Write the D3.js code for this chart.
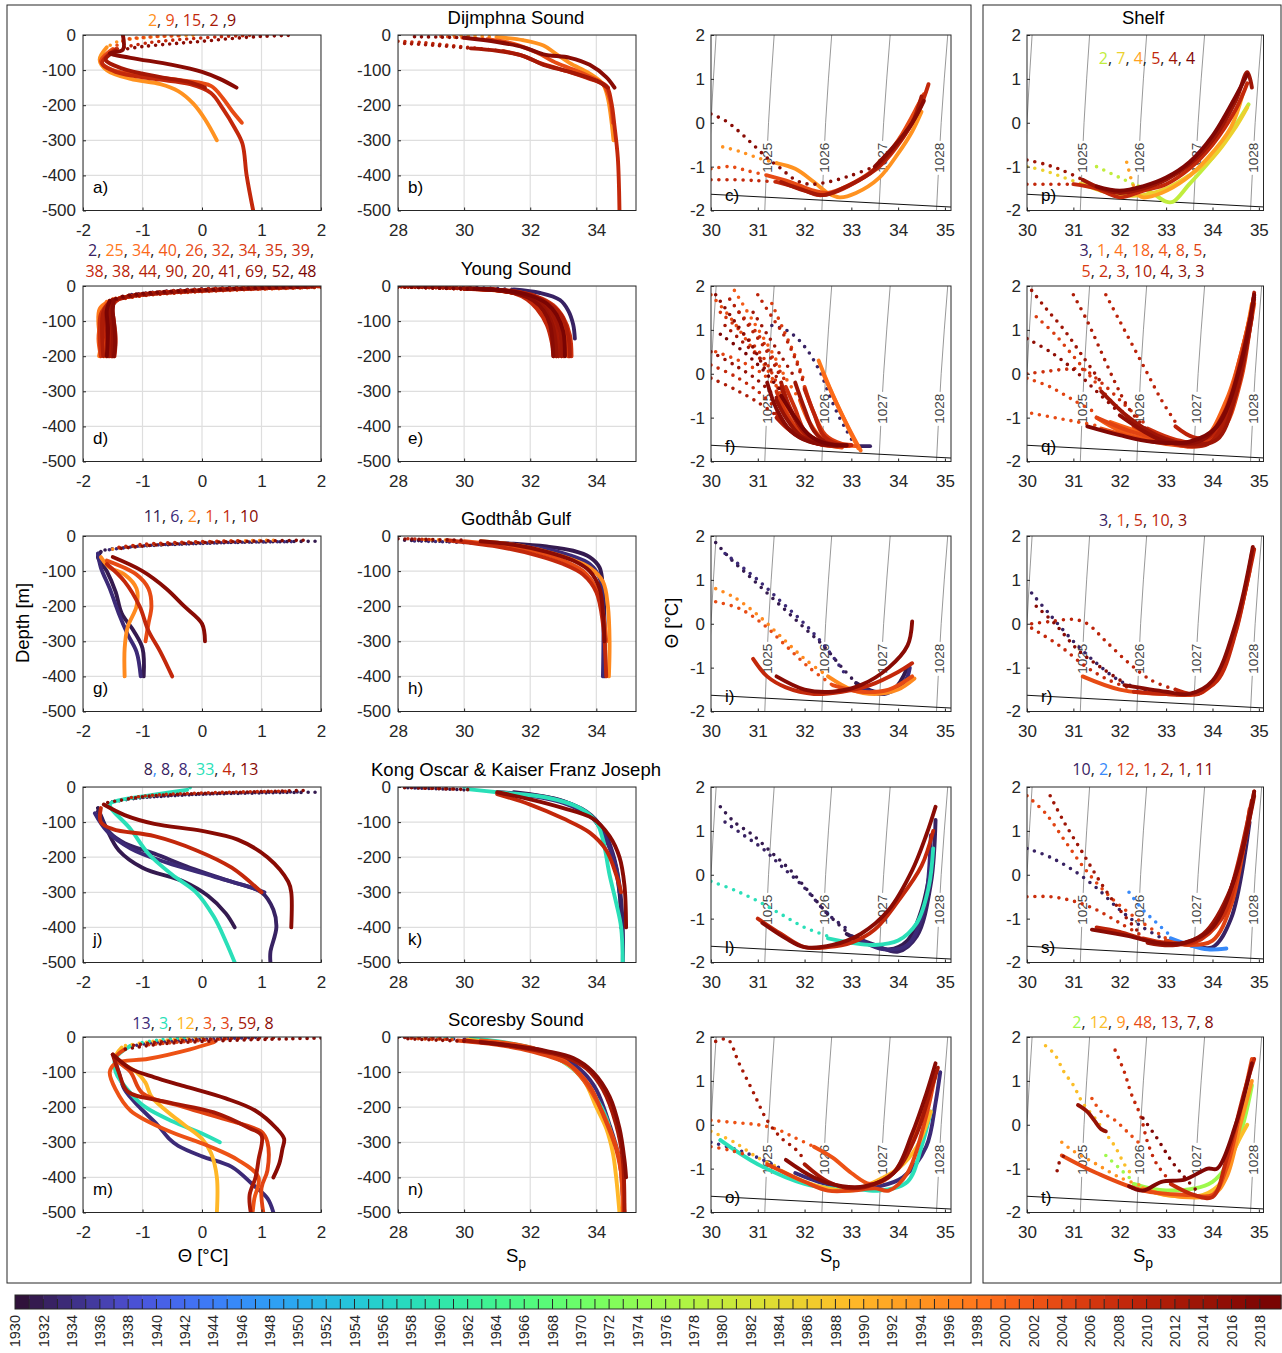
<!DOCTYPE html>
<html><head><meta charset="utf-8">
<script src="https://cdn.jsdelivr.net/npm/d3@7"></script>
<style>body{margin:0;background:#fff}svg{display:block}</style>
</head><body>
<svg id="c" width="1282" height="1353"></svg>
<script>
// ---------------- DATA ----------------
// tick labels
const thetaTicks=[-2,-1,0,1,2];
const salTicks=[28,30,32,34];
const tsTicks=[30,31,32,33,34,35];
const depthTicks=[0,-100,-200,-300,-400,-500];
const tempTicks=[2,1,0,-1,-2];
const cbLabelYears=d3.range(1930,2019,2);
const cbYears=d3.range(1930,2019);
const titles=["Dijmphna Sound","Young Sound","Godthåb Gulf","Kong Oscar & Kaiser Franz Joseph","Scoresby Sound"];
const letters=[["a)","b)","c)","p)"],["d)","e)","f)","q)"],["g)","h)","i)","r)"],["j)","k)","l)","s)"],["m)","n)","o)","t)"]];
// isopycnals (S at T=-2,0,2)
const isoT=[-2,0,2];
const isopycnals=[{lab:"",s:[29.93,30.0,30.11]},{lab:"1025",s:[31.15,31.23,31.35]},{lab:"1026",s:[32.37,32.45,32.58]},{lab:"1027",s:[33.59,33.69,33.83]},{lab:"1028",s:[34.82,34.92,35.06]}];
const freezeLine=[[30,-1.63],[35.2,-1.925]];

// count labels: [text, year|null]
const cntDij=[["2",1994],[", "],["9",2003],[", "],["15",2008],[", "],["2",2012],[" ,"],["9",2016]];
const cntYou1=[["2",1932],[", "],["25",1997],[", "],["34",1999],[", "],["40",2001],[", "],["26",2003],[", "],["32",2004],[", "],["34",2005],[", "],["35",2006],[", "],["39",2007],[","]];
const cntYou2=[["38",2008],[", "],["38",2009],[", "],["44",2010],[", "],["90",2011],[", "],["20",2012],[", "],["41",2013],[", "],["69",2014],[", "],["52",2016],[", "],["48",2018]];
const cntGod=[["11",1931],[", "],["6",1933],[", "],["2",1995],[", "],["1",2003],[", "],["1",2008],[", "],["10",2016]];
const cntKok=[["8",1931],[",",1945],[" "],["8",1932],[", "],["8",1933],[", "],["33",1958],[", "],["4",2008],[", "],["13",2016]];
const cntSco=[["13",1933],[", "],["3",1958],[", "],["12",1989],[", "],["3",2002],[", "],["3",2004],[", "],["59",2012],[", "],["8",2016]];
const cntShDij=[["2",1979],[", "],["7",1985],[", "],["4",1992],[", "],["5",2008],[", "],["4",2013],[", "],["4",2017]];
const cntShYou1=[["3",1932],[", "],["1",1996],[", "],["4",1998],[", "],["18",2000],[", "],["4",2001],[", "],["8",2003],[", "],["5",2004],[","]];
const cntShYou2=[["5",2005],[", "],["2",2007],[", "],["3",2009],[", "],["10",2011],[", "],["4",2013],[", "],["3",2015],[", "],["3",2017]];
const cntShGod=[["3",1932],[", "],["1",2003],[", "],["5",2008],[", "],["10",2009],[", "],["3",2016]];
const cntShKok=[["10",1932],[", "],["2",1945],[", "],["12",2004],[", "],["1",2007],[", "],["2",2009],[", "],["1",2013],[", "],["11",2016]];
const cntShSco=[["2",1975],[", "],["12",1988],[", "],["9",1994],[", "],["48",2003],[", "],["13",2008],[", "],["7",2014],[", "],["8",2017]];

// profiles: d = dotted part (flat x,y list), s = solid part
const dijTheta=[
 {yr:1994,d:[-0.15,-1,-0.6,-3,-1.0,-8,-1.4,-18,-1.6,-35],s:[-1.6,-35,-1.72,-70,-1.6,-100,-1.2,-125,-0.7,-140,-0.4,-160,-0.15,-195,0.05,-240,0.25,-300]},
 {yr:2003,d:[-0.4,-2,-0.9,-6,-1.3,-15,-1.5,-40],s:[-1.5,-40,-1.7,-75,-1.5,-100,-1.0,-115,-0.3,-130,0.15,-145,0.35,-180,0.5,-215,0.67,-250]},
 {yr:2008,d:[0.8,-1,0.3,-5,-0.3,-12,-0.9,-22,-1.45,-40],s:[-1.45,-40,-1.68,-80,-1.45,-105,-0.8,-125,-0.2,-140,0.15,-165,0.35,-210,0.55,-265,0.68,-310,0.75,-400,0.86,-500]},
 {yr:2012,d:[],s:[-1.45,-45,-1.62,-70,-1.35,-95,-0.7,-120,-0.2,-135,0.05,-150]},
 {yr:2016,d:[1.45,-1,1.0,-4,0.5,-10,0,-18,-0.5,-25,-1.0,-33,-1.35,-42],s:[-1.33,0,-1.33,-42,-1.55,-52,-1.2,-65,-0.5,-85,0.0,-105,0.3,-125,0.58,-150]}
];
const dijSal=[
 {yr:1994,d:[29.7,-2,30.3,-3,31,-6],s:[31,-6,31.8,-15,32.4,-30,32.8,-55,33.2,-80,33.8,-110,34.2,-140,34.35,-180,34.45,-240,34.52,-300]},
 {yr:2003,d:[29.3,-4,30.0,-8,30.7,-12],s:[30.7,-12,31.5,-25,32.2,-50,32.8,-80,33.6,-110,34.2,-140,34.4,-180,34.5,-250]},
 {yr:2008,d:[28,-18,28.8,-22,29.6,-30,30.4,-38,31.2,-46],s:[31.2,-46,31.8,-60,32.3,-80,33,-100,33.8,-125,34.3,-145,34.45,-190,34.55,-260,34.65,-350,34.7,-500]},
 {yr:2012,d:[28.2,-24,29.2,-30,30.2,-38],s:[30.2,-38,31,-45,31.8,-60,32.4,-85,33.2,-105,34,-130,34.35,-150]},
 {yr:2016,d:[28.5,-5,29.3,-6,30,-8],s:[30,-8,31,-20,31.8,-35,32.4,-55,33.2,-65,33.8,-85,34.3,-120,34.55,-150]}
];
const dijTS=[
 {yr:1994,d:[30.25,-0.55,30.6,-0.65,31,-0.8,31.4,-0.92],s:[31.4,-0.92,31.8,-1.05,32.2,-1.35,32.5,-1.6,32.75,-1.7,33.1,-1.6,33.6,-1.25,34.0,-0.7,34.3,-0.2,34.5,0.25]},
 {yr:2003,d:[30,-1.05,30.4,-1.0,30.8,-1.1,31.2,-1.2],s:[31.2,-1.2,31.7,-1.35,32.2,-1.55,32.5,-1.6,32.9,-1.45,33.5,-1.05,34.0,-0.4,34.45,0.45,34.55,0.65]},
 {yr:2008,d:[30,-1.3,30.5,-1.3,31,-1.32,31.4,-1.35],s:[31.4,-1.35,31.9,-1.5,32.3,-1.65,32.6,-1.6,33.1,-1.35,33.6,-1.0,34.1,-0.35,34.45,0.3,34.65,0.88]},
 {yr:2012,d:[],s:[31.5,-1.35,32,-1.55,32.4,-1.65,32.8,-1.5,33.4,-1.15,33.9,-0.6,34.3,0.0,34.5,0.6]},
 {yr:2016,d:[30,0.2,30.3,0.05,30.6,-0.2,30.9,-0.5,31.2,-0.8,31.5,-1.05,31.8,-1.3,32.1,-1.4,32.5,-1.35,33,-1.2,33.5,-1.0],s:[33.5,-1.0,33.9,-0.55,34.3,0.0,34.55,0.5]}
];
const shelfDij=[
 {yr:1979,d:[31.5,-1.0,31.8,-1.15,32.1,-1.3,32.4,-1.45],s:[32.4,-1.45,32.7,-1.6,33.0,-1.8,33.15,-1.8,33.5,-1.4,34.0,-0.8,34.5,-0.05,34.78,0.42]},
 {yr:1985,d:[30,-1.0,30.4,-1.1,30.8,-1.25,31.2,-1.4],s:[31.2,-1.4,31.6,-1.55,32,-1.65,32.5,-1.65,33,-1.5,33.5,-1.2,34,-0.8,34.5,-0.1,34.75,0.35]},
 {yr:1992,d:[32.15,-0.9,32.2,-1.1,32.25,-1.3,32.3,-1.45],s:[32.3,-1.55,32.5,-1.7,32.9,-1.6,33.4,-1.3,33.9,-0.8,34.4,-0.1,34.65,0.65]},
 {yr:2008,d:[30,-1.4,30.5,-1.4,31,-1.4],s:[31,-1.4,31.5,-1.5,32,-1.7,32.5,-1.55,33,-1.4,33.5,-1.05,34,-0.5,34.5,0.3,34.75,0.9]},
 {yr:2013,d:[30,-0.85,30.4,-0.95,30.8,-1.1,31.2,-1.3],s:[31.2,-1.3,31.6,-1.5,32,-1.6,32.5,-1.5,33,-1.3,33.5,-0.95,34,-0.4,34.5,0.5,34.75,1.15,34.85,0.8]},
 {yr:2017,d:[],s:[31.5,-1.45,32,-1.55,32.5,-1.45,33,-1.25,33.5,-0.9,34,-0.3,34.5,0.6,34.75,1.1]}
];

const youTheta=[
 {yr:1932,d:[1.05,-1,0.3,-6,-0.5,-13,-1.2,-25],s:[]},
 {yr:1997,d:[1.9,-3,1.0,-7,0.2,-12,-0.6,-19,-1.2,-29,-1.55,-42],s:[-1.55,-42,-1.72,-65,-1.74,-110,-1.7,-160,-1.73,-200]},
 {yr:1999,d:[1.5,-2,0.7,-6,-0.1,-11,-0.8,-19,-1.3,-30,-1.6,-45],s:[-1.6,-45,-1.66,-80,-1.6,-130,-1.63,-200]},
 {yr:2001,d:[2,-4,1.2,-8,0.4,-13,-0.4,-20,-1.0,-28,-1.45,-40],s:[-1.45,-40,-1.62,-60,-1.7,-100,-1.74,-150,-1.7,-200]},
 {yr:2003,d:[1.8,-2,1.0,-5,0.2,-10,-0.6,-17,-1.2,-27,-1.5,-38],s:[-1.5,-38,-1.58,-60,-1.55,-110,-1.5,-160,-1.52,-200]},
 {yr:2004,d:[1.6,-3,0.8,-7,0,-13,-0.7,-21,-1.2,-30,-1.5,-42],s:[-1.5,-42,-1.65,-70,-1.68,-120,-1.62,-170,-1.6,-200]},
 {yr:2005,d:[1.9,-1,1.1,-4,0.3,-9,-0.5,-16,-1.1,-25,-1.45,-36],s:[-1.45,-36,-1.52,-60,-1.5,-100,-1.48,-150,-1.5,-200]},
 {yr:2006,d:[2,-2,1.3,-5,0.5,-10,-0.3,-17,-1.0,-27,-1.45,-40],s:[-1.45,-40,-1.6,-65,-1.58,-120,-1.55,-170,-1.56,-200]},
 {yr:2007,d:[1.7,-3,0.9,-8,0.1,-14,-0.7,-22,-1.25,-32,-1.55,-45],s:[-1.55,-45,-1.7,-80,-1.72,-130,-1.7,-200]},
 {yr:2008,d:[1.4,-1,0.6,-5,-0.2,-11,-0.9,-20,-1.35,-32],s:[-1.35,-32,-1.5,-55,-1.48,-100,-1.45,-150,-1.47,-200]},
 {yr:2009,d:[1.95,-2,1.2,-6,0.4,-11,-0.4,-18,-1.1,-28,-1.5,-42],s:[-1.5,-42,-1.62,-70,-1.64,-120,-1.6,-160,-1.58,-195]},
 {yr:2010,d:[1.8,-4,1.0,-8,0.2,-13,-0.6,-20,-1.2,-30,-1.5,-44],s:[-1.5,-44,-1.55,-70,-1.52,-120,-1.5,-170,-1.52,-200]},
 {yr:2011,d:[1.6,-2,0.8,-6,0,-12,-0.8,-20,-1.3,-31,-1.55,-45],s:[-1.55,-45,-1.66,-75,-1.68,-130,-1.66,-200]},
 {yr:2012,d:[2,-3,1.2,-7,0.4,-12,-0.4,-19,-1.1,-29,-1.5,-40],s:[-1.5,-40,-1.58,-65,-1.55,-110,-1.52,-160,-1.55,-200]},
 {yr:2013,d:[1.9,-2,1.1,-5,0.3,-10,-0.5,-17,-1.15,-27,-1.5,-40],s:[-1.5,-40,-1.6,-70,-1.6,-120,-1.57,-170,-1.58,-200]},
 {yr:2014,d:[1.7,-1,0.9,-5,0.1,-10,-0.7,-18,-1.25,-28,-1.52,-42],s:[-1.52,-42,-1.55,-70,-1.5,-120,-1.5,-200]},
 {yr:2016,d:[1.85,-3,1.05,-7,0.25,-12,-0.55,-19,-1.15,-29,-1.48,-40],s:[-1.48,-40,-1.5,-70,-1.47,-120,-1.46,-170,-1.48,-200]},
 {yr:2018,d:[1.6,-2,0.8,-6,0,-11,-0.8,-18,-1.3,-28,-1.55,-42],s:[-1.55,-42,-1.6,-70,-1.58,-120,-1.6,-200]}
];
const youSal=[
 {yr:1932,d:[28.9,-1,29.8,-3,30.7,-6,31.5,-10],s:[31.5,-10,32.3,-20,32.9,-40,33.15,-70,33.3,-110,33.35,-150]},
 {yr:1997,d:[28,-2,28.8,-3,29.6,-5,30.4,-8,31.1,-12],s:[31.1,-12,31.9,-25,32.4,-45,32.8,-75,33.0,-110,33.1,-160,33.15,-200]},
 {yr:1999,d:[28.1,-1,29,-3,29.9,-6,30.7,-10],s:[30.7,-10,31.6,-22,32.2,-45,32.6,-80,32.85,-120,32.95,-200]},
 {yr:2001,d:[28.3,-2,29.3,-5,30.3,-9],s:[30.3,-9,31.3,-14,32,-28,32.5,-50,32.9,-85,33.1,-130,33.2,-200]},
 {yr:2003,d:[28,-1,29,-4,30,-8],s:[30,-8,31,-12,31.7,-25,32.1,-45,32.4,-75,32.6,-120,32.75,-160,32.8,-200]},
 {yr:2004,d:[28.2,-2,29.2,-5,30.2,-9],s:[30.2,-9,31.2,-13,32,-28,32.5,-55,32.8,-90,32.95,-140,33,-200]},
 {yr:2005,d:[28,-3,29,-5,30,-8],s:[30,-8,30.9,-11,31.6,-22,32,-40,32.3,-70,32.55,-110,32.7,-160,32.75,-200]},
 {yr:2006,d:[28.4,-2,29.4,-5,30.4,-9],s:[30.4,-9,31.3,-14,32.1,-30,32.6,-55,32.95,-90,33.1,-140,33.15,-200]},
 {yr:2007,d:[28.6,-1,29.6,-4,30.6,-9],s:[30.6,-9,31.5,-15,32.2,-30,32.7,-55,33,-90,33.2,-140,33.25,-200]},
 {yr:2008,d:[28,-2,29,-4,30,-7],s:[30,-7,30.8,-10,31.5,-20,31.9,-38,32.2,-65,32.5,-110,32.65,-160,32.7,-200]},
 {yr:2009,d:[28.2,-3,29.2,-6,30.2,-9],s:[30.2,-9,31.2,-13,31.9,-26,32.4,-48,32.75,-80,32.95,-130,33.05,-195]},
 {yr:2010,d:[28,-2,29,-5,30,-8],s:[30,-8,31,-12,31.8,-26,32.3,-50,32.6,-85,32.8,-130,32.85,-200]},
 {yr:2011,d:[28.5,-2,29.5,-5,30.5,-9],s:[30.5,-9,31.4,-14,32.1,-28,32.6,-52,32.95,-85,33.15,-140,33.2,-200]},
 {yr:2012,d:[28.1,-3,29.1,-5,30.1,-8],s:[30.1,-8,31.1,-12,31.8,-25,32.25,-45,32.55,-75,32.75,-120,32.85,-200]},
 {yr:2013,d:[28.3,-1,29.3,-4,30.3,-8],s:[30.3,-8,31.2,-13,31.9,-27,32.4,-50,32.7,-82,32.9,-130,32.95,-200]},
 {yr:2014,d:[28,-2,29,-5,30,-8],s:[30,-8,30.9,-11,31.7,-24,32.2,-44,32.5,-75,32.7,-120,32.8,-200]},
 {yr:2016,d:[28.2,-2,29.2,-5,30.2,-8],s:[30.2,-8,31,-12,31.7,-24,32.1,-42,32.4,-70,32.6,-110,32.7,-200]},
 {yr:2018,d:[28.4,-3,29.4,-6,30.4,-9],s:[30.4,-9,31.3,-13,32,-27,32.5,-50,32.8,-82,33,-130,33.05,-200]}
];
const youTS=[
 {yr:1932,d:[31.3,1.1,31.6,1.0,31.85,0.8,32.05,0.55,32.2,0.3,32.35,0.0,32.5,-0.4,32.7,-0.9,32.9,-1.3,33.05,-1.58],s:[33.15,-1.65,33.4,-1.65]},
 {yr:1997,d:[],s:[32.3,0.3,32.55,-0.35,32.85,-1.05,33.15,-1.7]},
 {yr:1999,d:[],s:[32.4,0.0,32.65,-0.6,32.95,-1.25,33.2,-1.75]},
 {yr:2001,d:[30.5,1.9,30.9,1.2,31.3,0.5,31.6,-0.1,31.9,-0.6],s:[31.9,-0.6,32.1,-1.1,32.4,-1.5,32.8,-1.62,33.1,-1.65]},
 {yr:2003,d:[30,1.8,30.4,1.3,30.8,0.7,31.2,0.1,31.5,-0.5],s:[31.5,-0.6,31.8,-1.2,32.2,-1.55,32.6,-1.65,32.8,-1.68]},
 {yr:2004,d:[30.1,0.5,30.6,0.3,31.1,0.0,31.5,-0.4],s:[31.5,-0.5,31.8,-1.0,32.1,-1.4,32.5,-1.6,32.95,-1.65]},
 {yr:2005,d:[31.3,1.6,31.55,1.0,31.8,0.4,32.0,-0.2],s:[32.0,-0.3,32.2,-0.9,32.45,-1.4,32.8,-1.6,33.0,-1.62]},
 {yr:2006,d:[30.2,1.4,30.7,0.9,31.1,0.4,31.4,-0.2],s:[31.4,-0.4,31.6,-0.9,31.9,-1.35,32.3,-1.6,32.7,-1.66]},
 {yr:2007,d:[30.6,1.4,31,0.9,31.3,0.4,31.6,-0.2],s:[31.6,-0.3,31.8,-0.8,32.0,-1.3,32.3,-1.55,32.75,-1.65]},
 {yr:2008,d:[30,0.2,30.5,-0.05,31,-0.4,31.4,-0.8],s:[31.4,-0.9,31.6,-1.2,31.9,-1.45,32.3,-1.6,32.6,-1.63]},
 {yr:2009,d:[31,1.8,31.3,1.3,31.6,0.8,31.85,0.2,32.0,-0.3],s:[32.0,-0.35,32.2,-0.9,32.4,-1.4,32.7,-1.6,33.0,-1.63]},
 {yr:2010,d:[30.4,1.7,30.8,1.1,31.2,0.5,31.5,-0.1],s:[31.5,-0.2,31.7,-0.8,32.0,-1.3,32.4,-1.58,32.8,-1.65]},
 {yr:2011,d:[30,-0.1,30.5,-0.35,31,-0.65,31.4,-0.95],s:[31.4,-1.0,31.7,-1.3,32.1,-1.5,32.5,-1.6,32.9,-1.65]},
 {yr:2012,d:[30.3,1.1,30.7,0.7,31.1,0.3,31.5,-0.2],s:[31.5,-0.3,31.7,-0.85,32.0,-1.35,32.4,-1.6,32.85,-1.64]},
 {yr:2013,d:[30.9,1.4,31.2,0.9,31.5,0.4,31.8,-0.1],s:[31.8,-0.2,32.0,-0.8,32.2,-1.3,32.5,-1.58,32.9,-1.62]},
 {yr:2014,d:[30,0.5,30.5,0.2,31,-0.15,31.4,-0.55],s:[31.4,-0.6,31.6,-1.0,31.9,-1.4,32.3,-1.6,32.7,-1.64]},
 {yr:2016,d:[30.1,1.8,30.5,1.2,30.9,0.6,31.2,0.0],s:[31.2,-0.2,31.4,-0.8,31.7,-1.3,32.1,-1.55,32.5,-1.62]},
 {yr:2018,d:[30.2,0.9,30.7,0.5,31.1,0.1,31.5,-0.4],s:[31.5,-0.5,31.8,-1.0,32.1,-1.4,32.5,-1.6,32.9,-1.63]}
];
const shelfYou=[
 {yr:1932,d:[],s:[32.5,-1.5,33.2,-1.6,33.8,-1.6,34.2,-1.2]},
 {yr:1996,d:[],s:[32.6,-1.4,33.2,-1.6,33.8,-1.55,34.3,-0.7,34.7,0.8,34.85,1.6]},
 {yr:1998,d:[],s:[32.3,-1.2,32.9,-1.5,33.6,-1.6,34.2,-1.2,34.6,0,34.85,1.5]},
 {yr:2000,d:[],s:[31.8,-1.1,32.5,-1.35,33.2,-1.55,33.8,-1.5,34.3,-0.6,34.7,0.8,34.9,1.8]},
 {yr:2001,d:[],s:[31.5,-1.0,32,-1.3,32.6,-1.5,33.3,-1.6,34,-1.4,34.5,-0.3,34.85,1.5]},
 {yr:2003,d:[30.1,-0.9,30.6,-1.0,31.1,-1.1,31.6,-1.2],s:[31.6,-1.25,32.3,-1.45,33,-1.6,33.7,-1.6,34.2,-1.0,34.6,0.4,34.9,1.7]},
 {yr:2004,d:[30,-0.1,30.5,-0.3,31,-0.6,31.5,-0.9],s:[31.5,-1.0,32.2,-1.3,32.9,-1.5,33.6,-1.6,34.2,-1.3,34.6,-0.2,34.85,1.4]},
 {yr:2005,d:[30.2,1.3,30.6,0.9,31,0.4,31.4,-0.1,31.8,-0.6,32.3,-1.1],s:[32.3,-1.2,32.9,-1.5,33.7,-1.65,34.2,-1.2,34.6,0,34.9,1.6]},
 {yr:2007,d:[30,0,30.4,0.05,30.8,0.1,31.2,0.1,31.6,-0.2,32.1,-0.7,32.6,-1.2],s:[32.6,-1.25,33.2,-1.5,33.8,-1.55,34.3,-0.8,34.7,0.6,34.9,1.8]},
 {yr:2009,d:[31.7,1.8,32,1.2,32.3,0.6,32.6,0.0,32.9,-0.6,33.2,-1.1],s:[33.2,-1.2,33.6,-1.45,34,-1.4,34.4,-0.5,34.8,1.2]},
 {yr:2011,d:[31,1.8,31.3,1.2,31.6,0.5,31.9,-0.2,32.2,-0.8,32.6,-1.3],s:[32.6,-1.35,33.2,-1.6,33.9,-1.6,34.3,-1.0,34.7,0.5,34.9,1.85]},
 {yr:2013,d:[30.1,1.9,30.4,1.5,30.8,1.0,31.2,0.4,31.6,-0.2],s:[31.6,-0.4,32.2,-1.0,32.8,-1.4,33.5,-1.6,34.1,-1.5,34.5,-0.5,34.85,1.3]},
 {yr:2015,d:[30,0.8,30.5,0.5,31,0.1,31.5,-0.4,32,-0.9],s:[32,-0.95,32.5,-1.3,33,-1.55,33.8,-1.5,34.3,-0.8,34.7,0.6,34.9,1.75]},
 {yr:2017,d:[],s:[31.3,-1.2,32,-1.4,32.7,-1.55,33.5,-1.55,34.1,-1.2,34.6,0.2,34.9,1.8]}
];

const godTheta=[
 {yr:1931,d:[1.9,-15,1.0,-17,0.2,-20,-0.6,-25,-1.3,-32,-1.7,-42],s:[-1.7,-45,-1.75,-60,-1.6,-100,-1.45,-160,-1.35,-220,-1.15,-270,-1.0,-320,-0.98,-400]},
 {yr:1933,d:[1.5,-16,0.6,-18,-0.2,-22,-1.0,-28,-1.6,-40],s:[-1.75,-50,-1.7,-90,-1.55,-150,-1.4,-220,-1.25,-280,-1.1,-330,-1.03,-400]},
 {yr:1995,d:[1.2,-12,0.4,-15,-0.4,-20,-1.1,-28,-1.6,-40],s:[-1.7,-60,-1.55,-90,-1.3,-110,-1.1,-150,-1.1,-200,-1.25,-260,-1.3,-320,-1.3,-400]},
 {yr:2003,d:[],s:[-1.6,-70,-1.1,-110,-0.9,-150,-0.85,-200,-0.9,-250,-0.95,-300]},
 {yr:2008,d:[0.6,-14,-0.2,-17,-1.0,-24,-1.5,-35],s:[-1.6,-80,-1.3,-130,-1.05,-200,-0.9,-270,-0.7,-330,-0.5,-400]},
 {yr:2016,d:[1.7,-12,0.8,-15,0.0,-19,-0.8,-26,-1.4,-36],s:[-1.5,-60,-1.0,-100,-0.6,-150,-0.3,-200,0.0,-250,0.05,-300]}
];
const godSal=[
 {yr:1931,d:[28.2,-12,29,-14,29.8,-16],s:[30.5,-18,31.5,-22,32.5,-30,33.3,-42,33.8,-60,34.1,-90,34.2,-150,34.25,-250,34.25,-400]},
 {yr:1933,d:[28.5,-14,29.5,-17,30.3,-20],s:[31,-22,32.3,-35,33.2,-55,33.8,-80,34.1,-120,34.2,-200,34.2,-400]},
 {yr:1995,d:[28.8,-10,29.6,-12],s:[30.5,-15,31.5,-25,32.5,-45,33.2,-65,33.8,-90,34.2,-130,34.35,-200,34.4,-300,34.38,-400]},
 {yr:2003,d:[],s:[30,-15,31.2,-28,32.2,-45,33,-70,33.6,-100,34.0,-150,34.2,-220,34.3,-300]},
 {yr:2008,d:[28.3,-8,29,-10],s:[29.5,-12,31,-30,32.2,-55,33,-80,33.6,-110,34,-160,34.2,-250,34.3,-400]},
 {yr:2016,d:[28,-8,29,-10,30,-12],s:[30.5,-15,31.5,-25,32.5,-45,33.3,-70,33.8,-100,34.1,-150,34.2,-220,34.25,-300]}
];
const godTS=[
 {yr:1931,d:[30.1,1.85,30.4,1.5,30.8,1.1,31.2,0.7,31.6,0.3,32,-0.1,32.4,-0.5,32.8,-1.0,33.1,-1.35],s:[33.1,-1.35,33.5,-1.55,33.9,-1.5,34.2,-1.0]},
 {yr:1933,d:[30.3,1.6,31,1.0,31.5,0.5,32,0,32.5,-0.6,32.9,-1.2],s:[33.2,-1.45,33.7,-1.6,34.15,-1.3,34.25,-1.0]},
 {yr:1995,d:[30.1,0.8,30.5,0.6,31,0.2,31.5,-0.3,32,-0.8,32.5,-1.2],s:[32.5,-1.2,33,-1.5,33.5,-1.6,34,-1.5,34.35,-1.25]},
 {yr:2003,d:[30.1,0.5,30.6,0.35,31.1,0,31.6,-0.5,32.1,-1.0,32.6,-1.4],s:[32.6,-1.4,33.2,-1.55,33.8,-1.5,34.3,-1.2]},
 {yr:2008,d:[],s:[30.9,-0.8,31.2,-1.2,31.6,-1.45,32.2,-1.6,32.8,-1.55,33.4,-1.4,34,-1.1,34.3,-0.9]},
 {yr:2016,d:[],s:[31.4,-1.2,32,-1.5,32.6,-1.55,33.2,-1.4,33.8,-1.0,34.2,-0.5,34.3,0.05]}
];
const shelfGod=[
 {yr:1932,d:[30.1,0.7,30.5,0.2,31,-0.4,31.5,-0.9,32,-1.3,32.5,-1.5,33,-1.6,33.5,-1.62],s:[]},
 {yr:2003,d:[],s:[31.2,-1.2,32,-1.5,33,-1.6,33.8,-1.55,34.3,-0.8,34.8,1.2]},
 {yr:2008,d:[30.1,-0.1,30.7,-0.5,31.3,-1.0,31.8,-1.3,32.3,-1.5],s:[32.3,-1.55,33,-1.6,33.6,-1.6,34.1,-1.3,34.5,-0.2,34.85,1.6]},
 {yr:2009,d:[30.1,0,30.5,0.05,31,0.1,31.3,0,31.7,-0.4,32.2,-0.9,32.7,-1.3,33.2,-1.5],s:[33.2,-1.5,33.7,-1.6,34.2,-1.0,34.6,0.3,34.9,1.7]},
 {yr:2016,d:[30.2,0.4,30.6,0.0,31.1,-0.6,31.6,-1.0,32.1,-1.35],s:[32.1,-1.4,33,-1.55,33.5,-1.6,34,-1.3,34.5,0,34.87,1.75]}
];

const kokTheta=[
 {yr:1931,d:[1.9,-15,1.3,-16,0.7,-18,0.1,-20,-0.5,-25,-1.1,-32,-1.6,-45],s:[-1.75,-60,-1.6,-120,-1.4,-180,-1.0,-230,-0.3,-270,0.1,-310,0.4,-360,0.55,-400]},
 {yr:1932,d:[1.6,-14,0.9,-16,0.2,-19,-0.5,-24,-1.2,-33],s:[-1.75,-70,-1.55,-130,-1.3,-160,-0.8,-190,-0.2,-230,0.5,-270,1.0,-300,1.2,-350,1.25,-400,1.15,-470,1.15,-500]},
 {yr:1933,d:[],s:[-1.8,-75,-1.6,-125,-1.2,-175,-0.6,-215,0.2,-255,0.8,-285,1.05,-300]},
 {yr:1958,d:[-0.2,-2,-0.25,-8],s:[-0.25,-8,-0.8,-22,-1.4,-38,-1.55,-50,-1.2,-120,-0.9,-190,-0.5,-250,-0.1,-300,0.2,-370,0.4,-440,0.55,-500]},
 {yr:2008,d:[1.4,-12,0.7,-14,0,-17,-0.7,-22,-1.3,-32],s:[-1.7,-60,-1.7,-100,-1.5,-120,-0.8,-140,-0.1,-180,0.5,-230,1.0,-300]},
 {yr:2016,d:[1.7,-10,1.0,-13,0.3,-17,-0.3,-20,-1.0,-28,-1.6,-45],s:[-1.65,-50,-1.3,-80,-0.8,-105,0,-125,0.6,-150,1.1,-200,1.45,-270,1.5,-300,1.5,-400]}
];
const kokSal=[
 {yr:1931,d:[28.3,-2,29.2,-5,30.2,-9],s:[31.5,-15,33,-40,33.8,-80,34.2,-130,34.5,-200,34.7,-300,34.75,-400]},
 {yr:1932,d:[28.6,-3,29.6,-6],s:[31,-14,32.8,-35,33.7,-70,34.2,-120,34.5,-190,34.7,-280,34.8,-400,34.8,-500]},
 {yr:1933,d:[],s:[31.4,-18,33,-45,33.9,-90,34.3,-150,34.6,-230,34.7,-300]},
 {yr:1958,d:[30,0,30.1,-4],s:[30.1,-6,31,-15,32.5,-30,33.5,-60,34,-100,34.2,-150,34.4,-250,34.6,-330,34.75,-400,34.8,-500]},
 {yr:2008,d:[28.8,-3,29.8,-6],s:[31,-20,32,-50,33,-90,33.8,-130,34.3,-180,34.6,-250,34.75,-300]},
 {yr:2016,d:[28.2,-2,29.2,-4,30.2,-8],s:[31,-15,32,-35,33,-60,33.9,-90,34.4,-140,34.7,-200,34.85,-280,34.9,-400]}
];
const kokTS=[
 {yr:1931,d:[30.2,1.55,30.5,1.2,30.9,0.9,31.3,0.5,31.7,0.1,32.1,-0.4,32.5,-0.9,32.9,-1.3],s:[32.9,-1.35,33.3,-1.55,33.8,-1.7,34.2,-1.5,34.5,-0.8,34.75,0.5]},
 {yr:1932,d:[30.3,1.2,30.7,0.9,31.1,0.6,31.5,0.2,32,-0.3,32.5,-0.9,33,-1.3],s:[33,-1.4,33.5,-1.6,34,-1.75,34.4,-1.4,34.7,-0.2,34.8,1.25]},
 {yr:1933,d:[],s:[33.2,-1.5,33.7,-1.7,34.2,-1.6,34.55,-0.8,34.7,0.9]},
 {yr:1958,d:[30,-0.15,30.5,-0.35,31,-0.6,31.5,-0.9,32,-1.2,32.5,-1.4],s:[32.5,-1.45,33,-1.55,33.5,-1.6,34,-1.5,34.4,-1.1,34.65,-0.3,34.75,0.6]},
 {yr:2008,d:[],s:[31,-1.0,31.5,-1.35,32,-1.65,32.5,-1.65,33,-1.55,33.5,-1.25,34,-0.6,34.5,0.2,34.75,1.0]},
 {yr:2016,d:[],s:[31.1,-1.1,31.6,-1.45,32,-1.65,32.6,-1.6,33.2,-1.35,33.8,-0.8,34.3,0.1,34.6,0.9,34.8,1.55]}
];
const shelfKok=[
 {yr:1932,d:[30,0.6,30.5,0.4,31,0.1,31.5,-0.3,32,-0.8,32.5,-1.2,33,-1.5],s:[33,-1.5,33.5,-1.6,34,-1.65,34.4,-1.0,34.8,1.2]},
 {yr:1945,d:[32.2,-0.4,32.5,-0.8,32.8,-1.1,33.1,-1.4],s:[33.1,-1.45,33.5,-1.6,33.9,-1.7,34.3,-1.68]},
 {yr:2004,d:[30,1.8,30.4,1.4,30.8,0.8,31.2,0.2,31.6,-0.3,32,-0.7,32.5,-1.1,33,-1.45],s:[33,-1.5,33.5,-1.6,34,-1.5,34.4,-0.7,34.8,1.5]},
 {yr:2007,d:[30,-0.5,30.5,-0.5,31,-0.6,31.5,-0.8,32,-1.1,32.5,-1.4],s:[32.5,-1.45,33,-1.55,33.6,-1.55,34.2,-1.0,34.6,0.3,34.9,1.9]},
 {yr:2009,d:[],s:[31.5,-1.2,32,-1.3,32.6,-1.5,33.2,-1.6,33.8,-1.4,34.3,-0.6,34.85,1.7]},
 {yr:2013,d:[30.5,1.8,30.8,1.2,31.2,0.5,31.6,-0.2,32,-0.8,32.4,-1.3],s:[32.6,-1.55,33.2,-1.6,33.8,-1.35,34.4,-0.3,34.9,1.8]},
 {yr:2016,d:[],s:[31.4,-1.25,32.2,-1.4,32.8,-1.55,33.4,-1.55,34,-1.2,34.5,0,34.9,1.9]}
];

const scoTheta=[
 {yr:1933,d:[0.9,-1,0.3,-5,-0.3,-10,-0.9,-18,-1.3,-30],s:[-1.35,-35,-1.45,-60,-1.4,-100,-1.3,-150,-1.05,-200,-0.75,-250,-0.55,-290,-0.4,-310,0,-340,0.5,-370,0.85,-420,1.1,-460,1.2,-500]},
 {yr:1958,d:[-0.3,-2,-0.7,-8,-1.1,-18],s:[-1.2,-25,-1.45,-60,-1.45,-100,-1.2,-160,-0.95,-200,-0.5,-240,0,-275,0.3,-300]},
 {yr:1989,d:[0.0,-1,-0.4,-6,-0.9,-14,-1.3,-25],s:[-1.35,-30,-1.45,-60,-1.1,-100,-0.95,-130,-0.85,-170,-0.6,-210,-0.3,-250,0.0,-290,0.15,-330,0.25,-400,0.25,-500]},
 {yr:2002,d:[0.6,-3,0.3,-8],s:[0.2,-15,-0.2,-35,-0.9,-62,-1.45,-75,-1.55,-100,-1.45,-150,-1.2,-210,-0.6,-265,0.1,-310,0.6,-350,0.95,-400,0.88,-460,0.85,-500]},
 {yr:2004,d:[0.4,-5,-0.2,-12,-0.9,-22],s:[-1.3,-35,-1.45,-60,-1.2,-100,-1.0,-160,-0.3,-200,0.5,-240,1.0,-270,1.1,-300,1.1,-380,1.0,-430,1.03,-500]},
 {yr:2012,d:[1.2,-2,0.6,-4,0,-7,-0.6,-12,-1.2,-25],s:[-1.5,-50,-1.4,-100,-1.25,-155,-0.6,-185,0.2,-215,0.8,-260,1.0,-280,0.95,-350,0.9,-400,0.8,-450,0.82,-500]},
 {yr:2016,d:[2,-3,1.5,-5,0.8,-8,0,-13,-0.7,-20,-1.3,-35],s:[-1.5,-50,-1.2,-90,-0.8,-115,-0.3,-140,0.4,-175,0.9,-210,1.25,-260,1.38,-290,1.35,-320,1.3,-360,1.2,-400]}
];
const scoSal=[
 {yr:1933,d:[28.2,-1,29,-3,29.8,-6],s:[30,-8,31,-15,32,-30,33,-60,33.6,-100,34,-150,34.4,-250,34.7,-350,34.8,-450,34.85,-500]},
 {yr:1958,d:[29,-3,29.7,-4],s:[30.2,-5,31,-12,32,-30,32.8,-60,33.4,-100,33.9,-160,34.3,-230,34.5,-300]},
 {yr:1989,d:[28.6,-4,29.4,-6],s:[30.1,-8,31,-18,32,-35,33,-70,33.6,-120,34,-200,34.3,-260,34.5,-330,34.6,-400,34.7,-500]},
 {yr:2002,d:[29,-5,29.8,-8],s:[30.5,-10,31.5,-20,32.2,-35,33,-65,33.5,-110,34,-180,34.4,-260,34.7,-350,34.8,-500]},
 {yr:2004,d:[28.4,-4,29.1,-7],s:[29.8,-10,31,-22,32,-40,33.2,-80,33.8,-140,34.2,-220,34.6,-320,34.8,-420,34.85,-500]},
 {yr:2012,d:[28,-1,28.8,-3,29.6,-7],s:[30,-10,31,-20,32,-35,33,-55,33.7,-90,34.2,-150,34.6,-250,34.8,-350,34.85,-500]},
 {yr:2016,d:[28.3,-5,29.2,-9,30,-12],s:[30.5,-15,31.5,-25,32.5,-40,33.3,-60,33.9,-100,34.4,-170,34.7,-260,34.85,-350,34.9,-400]}
];
const scoTS=[
 {yr:1933,d:[30,-0.4,30.5,-0.55,31,-0.75,31.5,-1.0],s:[31.8,-1.1,32.3,-1.3,33,-1.45,33.6,-1.4,34.1,-1.2,34.6,-0.5,34.8,0.5,34.9,1.2]},
 {yr:1958,d:[30.2,-0.35],s:[30.2,-0.35,31,-0.9,32,-1.35,32.6,-1.45,33,-1.45,33.6,-1.5,34.2,-1.3,34.5,-0.5,34.7,0.3]},
 {yr:1989,d:[30,-0.15,30.5,-0.4,31,-0.75,31.5,-1.0],s:[31.5,-1.05,32,-1.3,32.5,-1.45,33,-1.5,33.5,-1.3,34,-1.0,34.4,-0.5,34.7,0.3]},
 {yr:2002,d:[30,0.1,30.5,0.05,31,0.0,31.4,-0.1,31.8,-0.3,32.2,-0.5],s:[32.2,-0.5,32.6,-0.75,33,-1.1,33.4,-1.35,33.8,-1.2,34.2,-0.6,34.5,0.2,34.8,1.1]},
 {yr:2004,d:[30,-0.5,30.4,-0.58,30.8,-0.7],s:[31.2,-0.9,32,-1.3,32.5,-1.5,33,-1.5,33.5,-1.45,33.8,-1.5,34.2,-1.1,34.6,0.2,34.8,1.2]},
 {yr:2012,d:[30.1,1.9,30.35,1.95,30.6,1.4,30.9,0.75,31.2,0.1,31.5,-0.3,31.8,-0.55,32,-0.8],s:[32,-0.9,32.5,-1.3,33,-1.45,33.5,-1.35,34,-1.0,34.4,-0.2,34.7,0.8,34.85,1.3]},
 {yr:2016,d:[],s:[31.6,-0.8,32.2,-1.2,32.8,-1.4,33.3,-1.4,33.9,-1.1,34.3,-0.2,34.6,0.7,34.8,1.4]}
];
const shelfSco=[
 {yr:1975,d:[31.7,-0.7,32,-1.0,32.3,-1.3],s:[32.3,-1.35,33,-1.5,34,-1.3,34.5,-0.5,34.85,0.9]},
 {yr:1988,d:[30.4,1.8,30.6,1.6,30.8,1.2,31.0,0.9,31.2,0.5,31.5,0.1,31.7,-0.2,31.9,-0.5,32.1,-0.9,32.3,-1.2],s:[32.5,-1.45,33,-1.6,33.8,-1.6,34.2,-1.3,34.5,-0.5,34.75,0]},
 {yr:1994,d:[30.75,-0.4,31,-0.6,31.5,-0.9,32,-1.2,32.5,-1.4],s:[32.5,-1.45,33,-1.6,34,-1.6,34.3,-1.2,34.6,0,34.85,1.0]},
 {yr:2003,d:[31.4,0.6,31.6,0.3,31.9,0.1,32.2,-0.2,32.5,-0.5],s:[30.75,-0.7,31.5,-1.1,32.5,-1.5,33.5,-1.6,34,-1.6,34.3,-1.0,34.6,0.3,34.85,1.5]},
 {yr:2008,d:[31.9,1.7,32.1,1.2,32.25,0.7,32.45,0.2,32.6,-0.4,32.8,-0.9,33.1,-1.3],s:[33.1,-1.35,33.6,-1.6,34,-1.65,34.3,-0.8,34.7,0.8,34.9,1.5]},
 {yr:2014,d:[30.65,-1.05,30.7,-0.85,30.8,-0.7],s:[31.1,0.45,31.3,0.3,31.45,0.1,31.6,-0.1,31.7,-0.15]},
 {yr:2017,d:[32.5,0.15,32.8,-0.3,33.1,-0.8,33.4,-1.2,33.7,-1.55],s:[32.2,-1.4,32.5,-1.5,32.9,-1.3,33.4,-1.25,33.9,-1.0,34.1,-1.0,34.5,0,34.85,1.4]}
];

// ---------------- RENDER ----------------
const svg=d3.select("#c");
const FONT="'Liberation Sans', Arial, sans-serif";
const INK="#262626";
function yc(y){
  const t=Math.max(0,Math.min(1,(y-1930)/88));
  if(t<0.08) return d3.interpolateRgb("#30123b",d3.interpolateTurbo(0.08))(t/0.08);
  if(t>0.9) return d3.interpolateRgb(d3.interpolateTurbo(0.9),"#7a0403")((t-0.9)/0.1);
  return d3.interpolateTurbo(t);
}
const pairs=a=>d3.range(0,a.length,2).map(i=>[a[i],a[i+1]]);

const ROW=[35,286,536,787,1037], PH=175.5;
const X0=[83,398,711,1027], X1=[321,636,951,1263.5];
const XD=[[-2,2],[28,35.2],[30,35.13],[30,35.1]];
const XT=[thetaTicks,salTicks,tsTicks,tsTicks];
const data=[[dijTheta,dijSal,dijTS,shelfDij],[youTheta,youSal,youTS,shelfYou],[godTheta,godSal,godTS,shelfGod],[kokTheta,kokSal,kokTS,shelfKok],[scoTheta,scoSal,scoTS,shelfSco]];

// group boxes
svg.append("rect").attr("x",7).attr("y",5).attr("width",964).attr("height",1278).attr("fill","none").attr("stroke",INK).attr("stroke-width",1);
svg.append("rect").attr("x",983).attr("y",5).attr("width",298).attr("height",1278).attr("fill","none").attr("stroke",INK).attr("stroke-width",1);

function panel(r,c){
  const top=ROW[r];
  const x=d3.scaleLinear(XD[c],[X0[c],X1[c]]);
  const isTS=c>=2;
  const y=isTS?d3.scaleLinear([2,-2],[top,top+PH]):d3.scaleLinear([0,-500],[top,top+PH]);
  const g=svg.append("g");
  const cid="cl"+r+"_"+c;
  svg.append("clipPath").attr("id",cid).append("rect").attr("x",X0[c]).attr("y",top).attr("width",X1[c]-X0[c]).attr("height",PH);
  const inner=g.append("g").attr("clip-path","url(#"+cid+")");
  if(!isTS){
    inner.selectAll(".gx").data(XT[c]).join("line").attr("x1",d=>x(d)).attr("x2",d=>x(d)).attr("y1",top).attr("y2",top+PH).attr("stroke","#dedede").attr("stroke-width",1.2);
    inner.selectAll(".gy").data(depthTicks).join("line").attr("x1",X0[c]).attr("x2",X1[c]).attr("y1",d=>y(d)).attr("y2",d=>y(d)).attr("stroke","#dedede").attr("stroke-width",1.2);
  } else {
    const iso=d3.line().x(p=>x(p[0])).y(p=>y(p[1])).curve(d3.curveNatural);
    isopycnals.forEach(o=>{
      inner.append("path").attr("d",iso(o.s.map((s,i)=>[s,isoT[i]]))).attr("fill","none").attr("stroke","#8c8c8c").attr("stroke-width",0.9);
      if(o.lab){
        const sx=o.s[0]+(o.s[1]-o.s[0])*0.6, ty=-0.8;
        const px=x(sx), py=y(ty);
        inner.append("rect").attr("x",px-7).attr("y",py-17).attr("width",14).attr("height",34).attr("fill","#fff");
        inner.append("text").attr("transform",`translate(${px},${py}) rotate(-90)`).attr("text-anchor","middle").attr("dy","0.36em")
          .attr("font-family",FONT).attr("font-size",13.5).attr("fill","#444").text(o.lab);
      }
    });
    inner.append("path").attr("d",d3.line().x(p=>x(p[0])).y(p=>y(p[1]))(freezeLine)).attr("stroke","#111").attr("stroke-width",1).attr("fill","none");
  }
  const lg=d3.line().x(p=>x(p[0])).y(p=>y(p[1])).curve(d3.curveCatmullRom.alpha(0.5));
  const profs=data[r][c].slice().sort((a,b)=>a.yr-b.yr);
  profs.forEach(p=>{
    const col=yc(p.yr);
    if(p.d && p.d.length>=4){
      inner.append("path").attr("d",lg(pairs(p.d))).attr("fill","none").attr("stroke",col)
        .attr("stroke-width",3.6).attr("stroke-linecap","round").attr("stroke-dasharray",isTS?"0 8":"0 7");
    } else if(p.d && p.d.length===2){
      inner.append("circle").attr("cx",x(p.d[0])).attr("cy",y(p.d[1])).attr("r",1.8).attr("fill",col);
    }
    if(p.s && p.s.length>=4){
      inner.append("path").attr("d",lg(pairs(p.s))).attr("fill","none").attr("stroke",col)
        .attr("stroke-width",3.9).attr("stroke-linecap","round").attr("stroke-linejoin","round");
    }
  });
  // frame
  g.append("rect").attr("x",X0[c]).attr("y",top).attr("width",X1[c]-X0[c]).attr("height",PH).attr("fill","none").attr("stroke",INK).attr("stroke-width",1);
  // axes
  const ax=g.append("g").attr("transform",`translate(0,${top+PH})`).call(d3.axisBottom(x).tickValues(XT[c]).tickSize(-3).tickPadding(13).tickFormat(d3.format("d")));
  const ay=g.append("g").attr("transform",`translate(${X0[c]},0)`).call(d3.axisLeft(y).tickValues(isTS?tempTicks:depthTicks).tickSize(-3).tickPadding(isTS?6:7).tickFormat(d3.format("d")));
  [ax,ay].forEach(a=>{a.select(".domain").remove();a.selectAll("line").attr("stroke",INK);
    a.attr("font-family",FONT).attr("font-size",17).selectAll("text").attr("fill",INK).text(function(){return this.textContent.replace("−","-");});});
  // letter
  g.append("text").attr("x",isTS?X0[c]+14:X0[c]+10).attr("y",isTS?top+166:top+158).attr("font-family",FONT).attr("font-size",17).attr("fill","#000").text(letters[r][c]);
}
for(let r=0;r<5;r++)for(let c=0;c<4;c++)panel(r,c);

// titles
titles.forEach((t,i)=>svg.append("text").attr("x",516).attr("y",ROW[i]-11).attr("text-anchor","middle").attr("font-family",FONT).attr("font-size",18.5).attr("fill","#000").text(t));
svg.append("text").attr("x",1143).attr("y",24).attr("text-anchor","middle").attr("font-family",FONT).attr("font-size",18.5).attr("fill","#000").text("Shelf");

// count labels
function cnt(arr,cx,yb){
  const t=svg.append("text").attr("x",cx).attr("y",yb).attr("text-anchor","middle").attr("font-family","'Open Sans', Lato, sans-serif").attr("font-size",16).attr("xml:space","preserve");
  arr.forEach(a=>t.append("tspan").attr("fill",a[1]?yc(a[1]):INK).text(a[0]));
}
cnt(cntDij,192,26);
cnt(cntYou1,201,256); cnt(cntYou2,201,277);
cnt(cntGod,201,522);
cnt(cntKok,201,775);
cnt(cntSco,203,1029);
cnt(cntShDij,1147,64);
cnt(cntShYou1,1143,256); cnt(cntShYou2,1143,277);
cnt(cntShGod,1143,526);
cnt(cntShKok,1143,775);
cnt(cntShSco,1143,1028);

// axis labels
svg.append("text").attr("transform","translate(29,623) rotate(-90)").attr("text-anchor","middle").attr("font-family",FONT).attr("font-size",18.5).attr("fill","#000").text("Depth [m]");
svg.append("text").attr("transform","translate(678,623) rotate(-90)").attr("text-anchor","middle").attr("font-family",FONT).attr("font-size",18.5).attr("fill","#000").text("Θ [°C]");
svg.append("text").attr("x",203).attr("y",1262).attr("text-anchor","middle").attr("font-family",FONT).attr("font-size",18.5).attr("fill","#000").text("Θ [°C]");
[516,830,1143].forEach(cx=>{
  const t=svg.append("text").attr("x",cx).attr("y",1262).attr("text-anchor","middle").attr("font-family",FONT).attr("font-size",18.5).attr("fill","#000");
  t.append("tspan").text("S");
  t.append("tspan").attr("font-size",14).attr("dy",6).text("p");
});

// colorbar
const xcb=d3.scaleLinear([1930,2019.5],[15,1281]);
const cb=svg.append("g");
cb.selectAll("rect").data(cbYears).join("rect").attr("x",d=>xcb(d)).attr("y",1295).attr("width",d=>(d===2018?1281:xcb(d+1))-xcb(d)+0.5).attr("height",14).attr("fill",d=>yc(d));
cb.selectAll("line").data(cbYears.slice(1)).join("line").attr("x1",d=>xcb(d)).attr("x2",d=>xcb(d)).attr("y1",1299).attr("y2",1309).attr("stroke",INK).attr("stroke-width",1);
cb.append("rect").attr("x",15).attr("y",1295).attr("width",1266).attr("height",14).attr("fill","none").attr("stroke",INK).attr("stroke-width",1);
cb.selectAll("text").data(cbLabelYears).join("text").attr("transform",d=>`translate(${xcb(d)},1315) rotate(-90)`).attr("text-anchor","end").attr("dy","0.36em")
  .attr("font-family",FONT).attr("font-size",14.5).attr("fill",INK).text(d=>d);
</script>
</body></html>
